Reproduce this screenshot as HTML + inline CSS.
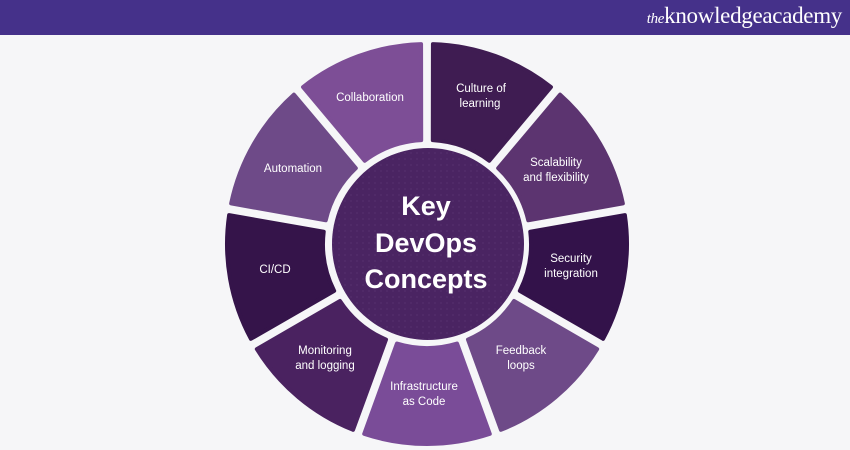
<!DOCTYPE html>
<html><head><meta charset="utf-8"><style>
html,body{margin:0;padding:0;width:850px;height:450px;overflow:hidden;background:#f6f6f8;}
.hdr{position:absolute;left:0;top:0;width:850px;height:35px;background:#45318a;}
.logo{position:absolute;right:8px;top:3px;color:#fff;font-family:"Liberation Serif",serif;font-size:23px;letter-spacing:-0.3px;}
.logo i{font-size:15px;}
svg{position:absolute;left:0;top:0;}
</style></head><body>
<div class="hdr"><div class="logo"><i>the</i>knowledgeacademy</div></div>
<svg width="850" height="450" viewBox="0 0 850 450" font-family="Liberation Sans, sans-serif">
<defs>
<pattern id="dots" width="6" height="6" patternUnits="userSpaceOnUse"><circle cx="3" cy="3" r="1" fill="#5a3474"/></pattern>
</defs>
<g id="segs"></g>
<script>
(function(){
var cx=427,cy=244,R=200,r=104;
var cols=["#3f1c52","#5c3470","#33124a","#6e4a88","#7a4c98","#4a2260","#35144a","#6e4a88","#7d4e96"];
var g=document.getElementById("segs");
function pt(rad,a){var t=a*Math.PI/180;return (cx+rad*Math.sin(t))+" "+(cy-rad*Math.cos(t));}
for(var i=0;i<9;i++){
 var a0=i*40+1.7,a1=(i+1)*40-1.7;
 var b0=i*40+3.2,b1=(i+1)*40-3.2;
 var d="M"+pt(R,a0)+" A"+R+" "+R+" 0 0 1 "+pt(R,a1)+" L"+pt(r,b1)+" A"+r+" "+r+" 0 0 0 "+pt(r,b0)+" Z";
 var e=document.createElementNS("http://www.w3.org/2000/svg","path");
 e.setAttribute("d",d);
 e.setAttribute("fill",cols[i]);e.setAttribute("stroke",cols[i]);
 e.setAttribute("stroke-width","4");e.setAttribute("stroke-linejoin","round");
 g.appendChild(e);
}
})();
</script>
<circle cx="428" cy="244" r="96" fill="#4a2462"/>
<circle cx="428" cy="244" r="96" fill="url(#dots)" opacity="0.5"/>
<g fill="#fff" font-size="11.5" text-anchor="middle">
<text x="370" y="101">Collaboration</text>
<text x="481" y="92">Culture of</text><text x="480" y="107">learning</text>
<text x="556" y="166">Scalability</text><text x="556" y="181">and flexibility</text>
<text x="293" y="172">Automation</text>
<text x="571" y="262">Security</text><text x="571" y="277">integration</text>
<text x="275" y="273">CI/CD</text>
<text x="521" y="354">Feedback</text><text x="521" y="369">loops</text>
<text x="325" y="354">Monitoring</text><text x="325" y="369">and logging</text>
<text x="424" y="390">Infrastructure</text><text x="424" y="405">as Code</text>
</g>
<g fill="#fff" font-size="27" font-weight="bold" text-anchor="middle">
<text x="426" y="215">Key</text>
<text x="426" y="252">DevOps</text>
<text x="426" y="288">Concepts</text>
</g>
</svg>
</body></html>
